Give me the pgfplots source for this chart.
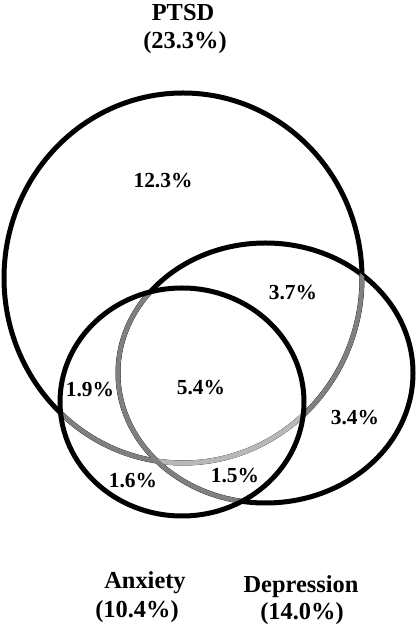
\documentclass[border=0pt]{standalone}
\usepackage{fontspec}
\setmainfont{Liberation Serif}
\usepackage{pgfplots}
\pgfplotsset{compat=1.18}
\definecolor{arcgray}{gray}{0.5}
\definecolor{arclight}{gray}{0.72}

\begin{document}
\begin{tikzpicture}
\begin{axis}[
    width=417bp, height=626bp, scale only axis,
    xmin=0, xmax=417, ymin=0, ymax=626,
    axis lines=none, ticks=none, clip=false,
]
% keep the full canvas in the bounding box
\path (rel axis cs:0,0) rectangle (rel axis cs:1,1);
% outer circles (PTSD, Depression)
\draw[line width=5bp] (axis cs:183,348) ellipse [x radius=179, y radius=185];
\draw[line width=5bp] (axis cs:265.5,253) ellipse [x radius=147.5, y radius=130];
% PTSD arc inside the other sets is grey
\begin{scope}
  \clip (axis cs:265.5,253) ellipse [x radius=147.5, y radius=130];
  \draw[arcgray, line width=4.6bp] (axis cs:183,348) ellipse [x radius=179, y radius=185];
\end{scope}
\begin{scope}
  \clip (axis cs:182,224) ellipse [x radius=122, y radius=114];
  \draw[arcgray, line width=4.6bp] (axis cs:183,348) ellipse [x radius=179, y radius=185];
\end{scope}
\begin{scope}
  \clip (axis cs:182,224) ellipse [x radius=122, y radius=114];
  \clip (axis cs:265.5,253) ellipse [x radius=147.5, y radius=130];
  \draw[arclight, line width=4.6bp] (axis cs:183,348) ellipse [x radius=179, y radius=185];
\end{scope}
% Depression arc inside Anxiety is grey
\begin{scope}
  \clip (axis cs:182,224) ellipse [x radius=122, y radius=114];
  \draw[arcgray, line width=4.6bp] (axis cs:265.5,253) ellipse [x radius=147.5, y radius=130];
\end{scope}
% Anxiety on top
\draw[line width=5bp] (axis cs:182,224) ellipse [x radius=122, y radius=114];

% region percentages
\addplot[draw=none, mark=none, point meta=explicit symbolic, nodes near coords,
    every node near coord/.style={anchor=center, inner sep=0pt,
        font=\bfseries\fontsize{21.5}{24}\selectfont}]
    table[meta=label] {
x   y   label
163 445 12.3\%
293 333 3.7\%
90  236 1.9\%
201 238 5.4\%
355 208 3.4\%
133 145 1.6\%
235 150 1.5\%
};
% set names
\addplot[draw=none, mark=none, point meta=explicit symbolic, nodes near coords,
    every node near coord/.style={anchor=center, inner sep=0pt,
        font=\bfseries\fontsize{24.5}{27}\selectfont}]
    table[meta=label] {
x   y   label
183 613 PTSD
185 583 (23.3\%)
145 43  Anxiety
137 14  (10.4\%)
301 39  Depression
302 12  (14.0\%)
};
\end{axis}
\end{tikzpicture}
\end{document}
